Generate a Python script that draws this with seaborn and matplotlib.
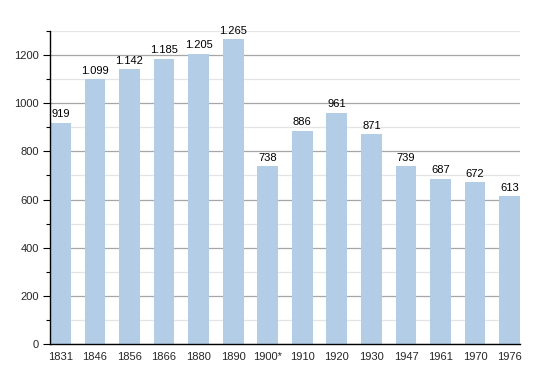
import matplotlib
matplotlib.use("Agg")
import matplotlib.pyplot as plt
from matplotlib.ticker import MultipleLocator
import seaborn as sns
import pandas as pd

# population by census year
years = ["1831", "1846", "1856", "1866", "1880", "1890", "1900*",
         "1910", "1920", "1930", "1947", "1961", "1970", "1976"]
population = [919, 1099, 1142, 1185, 1205, 1265, 738,
              886, 961, 871, 739, 687, 672, 613]

df = pd.DataFrame({"year": years, "pop": population})

sns.set_style("white")
plt.rcParams["font.family"] = ["Liberation Sans", "DejaVu Sans"]

fig = plt.figure(figsize=(5.5, 3.73), dpi=100)
ax = fig.add_axes([0.0909, 0.0777, 0.8546, 0.8393])

sns.barplot(data=df, x="year", y="pop", color="#b3cde6", saturation=1,
            width=0.6, linewidth=0, edgecolor="none", ax=ax, zorder=3)

ax.set_xlim(-0.3, 13.3)
ax.set_ylim(0, 1300)
ax.yaxis.set_major_locator(MultipleLocator(200))
ax.yaxis.set_minor_locator(MultipleLocator(100))
ax.grid(True, which="major", axis="y", color="#a6a6a6", linewidth=0.9, zorder=0)
ax.grid(True, which="minor", axis="y", color="#e4e4e4", linewidth=0.9, zorder=0)
ax.set_axisbelow(True)

for s in ["top", "right"]:
    ax.spines[s].set_visible(False)
for s in ["left", "bottom"]:
    ax.spines[s].set_color("black")
    ax.spines[s].set_linewidth(1.0)
    ax.spines[s].set_zorder(4)

ax.tick_params(axis="y", which="major", left=True, length=5, width=0.8,
               labelsize=8, pad=3, color="black")
ax.tick_params(axis="y", which="minor", left=True, length=3, width=0.8, color="black")
ax.tick_params(axis="x", bottom=False, labelsize=8, pad=2)

ax.set_xlabel("")
ax.set_ylabel("")

# value labels with dot thousands separator
for i, v in enumerate(population):
    label = f"{v:,}".replace(",", ".")
    ax.text(i, v + 14, label, ha="center", va="bottom", fontsize=8, color="black")

fig.savefig("out.png", dpi=100)
